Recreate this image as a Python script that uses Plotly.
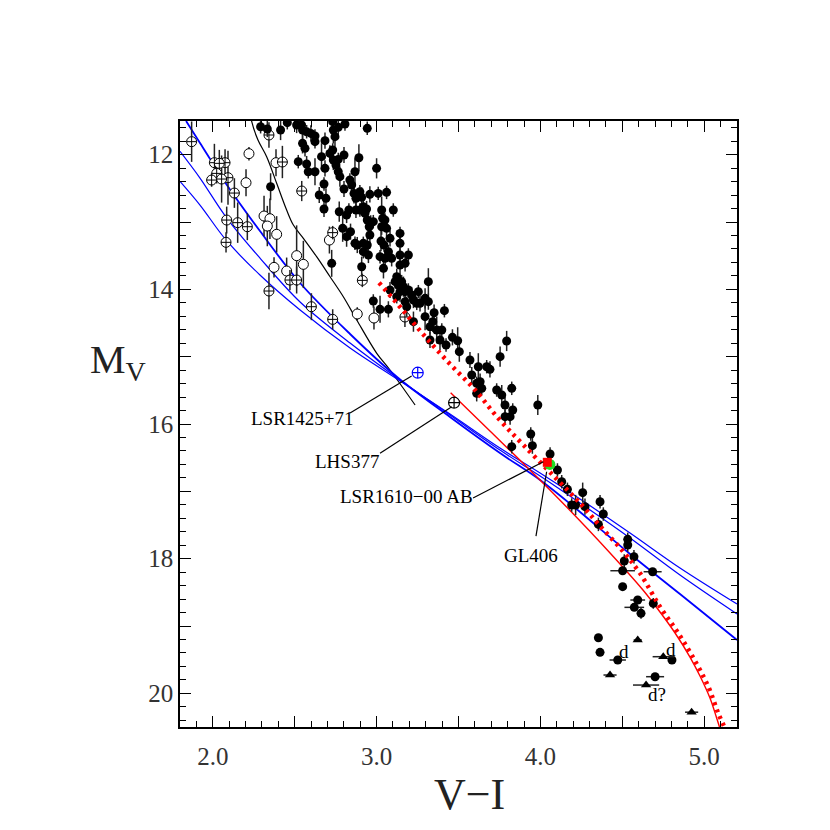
import plotly.graph_objects as go

# ---------------- data (V-I, M_V) ----------------
FILLED_VI = [
    2.292, 2.333, 2.414, 2.455, 2.512, 2.542, 2.548, 2.573, 2.599, 2.624, 2.732, 2.736, 2.766, 2.807, 2.943,
    2.548, 2.563, 2.624, 2.685, 2.746, 2.715, 2.732, 2.664, 2.766, 2.801, 2.892, 2.522, 2.573, 2.583, 2.624,
    2.685, 2.736, 2.752, 2.766, 2.776, 2.868, 3.000, 2.353, 2.679, 2.650, 2.691, 2.801, 2.837, 2.848, 2.862,
    2.874, 2.898, 2.909, 2.959, 3.010, 3.061, 2.679, 2.772, 2.817, 2.831, 2.874, 2.898, 2.919, 2.939, 2.929,
    2.943, 2.964, 2.980, 3.031, 3.102, 3.037, 3.051, 3.061, 2.793, 2.841, 2.817, 2.955, 2.959, 3.031, 2.868,
    2.882, 2.919, 2.943, 3.027, 3.045, 3.082, 3.143, 3.143,
    2.726, 2.919, 2.950, 3.021, 3.052, 3.042, 3.072, 3.092, 3.143, 3.143, 3.174, 3.194, 2.909, 3.123, 3.113,
    3.133, 3.153, 3.164, 3.316, 3.082, 3.123, 3.143, 3.174, 3.194, 3.214, 3.255, 3.296, 3.316, 2.980, 3.021,
    3.072, 3.174, 3.184, 3.225, 3.245, 3.265, 3.225, 3.296, 3.351, 3.414, 3.343, 3.326, 3.367, 3.398, 3.326,
    3.387, 3.424, 3.463, 3.495, 3.505, 3.570, 3.621, 3.672, 3.692, 3.754, 3.794, 3.581, 3.611, 3.632, 3.642,
    3.611, 3.733, 3.764, 3.825, 3.784, 3.831, 3.815, 3.784, 3.984, 3.941, 3.951, 3.825, 4.059, 4.104, 4.130,
    4.165,
    4.191, 4.215, 4.258, 4.272, 4.364, 4.384, 4.354, 4.533, 4.533, 4.571, 4.512, 4.354, 4.364, 4.803, 4.614,
    4.689, 4.502,
]
FILLED_MV = [
    11.585, 11.619, 11.634, 11.525, 11.560, 11.560, 11.634, 11.659, 11.684, 11.723, 11.510, 11.634, 11.594, 11.545, 11.609,
    11.832, 11.906, 11.807, 11.792, 11.733, 11.981, 11.931, 12.030, 12.070, 12.005, 12.045, 12.104, 12.139, 12.253, 12.253,
    12.203, 12.080, 12.154, 12.253, 12.327, 12.253, 12.203, 12.476, 12.436, 12.599, 12.649, 12.510, 12.377, 12.451, 12.575,
    12.649, 12.550, 12.634, 12.589, 12.575, 12.560, 12.807, 12.847, 12.896, 12.822, 12.822, 12.822, 12.773, 12.807, 12.872,
    12.971, 13.020, 12.995, 12.822, 12.822, 12.946, 12.971, 13.094, 13.094, 13.144, 13.218, 13.070, 13.193, 13.070, 13.317,
    13.342, 13.317, 13.342, 13.283, 13.342, 13.243, 13.169, 13.317,
    13.614, 13.441, 13.490, 13.515, 13.540, 13.688, 13.441, 13.540, 13.490, 13.639, 13.614, 13.490, 13.664, 13.812, 13.886,
    13.936, 13.886, 13.961, 13.886, 14.010, 14.109, 14.035, 14.035, 14.010, 14.084, 14.035, 14.134, 14.183, 14.173, 14.297,
    14.297, 14.183, 14.258, 14.159, 14.208, 14.208, 14.480, 14.406, 14.347, 14.317, 14.480, 14.555, 14.604, 14.604, 14.753,
    14.753, 14.827, 14.713, 14.763, 14.926, 15.050, 15.149, 15.149, 15.188, 15.000, 14.767, 15.272, 15.396, 15.371, 15.470,
    15.545, 15.495, 15.569, 15.470, 15.718, 15.792, 15.891, 15.891, 15.718, 16.149, 16.322, 16.337, 16.446, 16.683, 16.857,
    16.970,
    17.203, 17.203, 17.020, 17.228, 17.154, 17.337, 17.491, 17.713, 17.797, 17.971, 18.035, 19.174, 19.391, 19.505, 18.812,
    18.664, 18.416,
]
FILLED_ERR = [
    0.10, 0.12, 0.15, 0.10, 0.12, 0.10, 0.15, 0.10, 0.12, 0.10, 0.10, 0.20, 0.12, 0.10, 0.10,
    0.15, 0.12, 0.10, 0.12, 0.15, 0.12, 0.10, 0.20, 0.10, 0.12, 0.20, 0.10, 0.12, 0.10, 0.20,
    0.12, 0.15, 0.12, 0.10, 0.15, 0.20, 0.15, 0.20, 0.10, 0.12, 0.15, 0.12, 0.10, 0.10, 0.15,
    0.12, 0.10, 0.15, 0.12, 0.10, 0.10, 0.12, 0.15, 0.12, 0.10, 0.12, 0.10, 0.15, 0.12, 0.10,
    0.15, 0.12, 0.10, 0.20, 0.10, 0.12, 0.10, 0.15, 0.20, 0.12, 0.15, 0.10, 0.20, 0.12, 0.10,
    0.12, 0.10, 0.12, 0.15, 0.10, 0.12, 0.10, 0.15,
    0.20, 0.10, 0.12, 0.10, 0.12, 0.15, 0.10, 0.12, 0.10, 0.20, 0.12, 0.10, 0.15, 0.12, 0.10,
    0.12, 0.10, 0.15, 0.20, 0.12, 0.10, 0.15, 0.12, 0.10, 0.12, 0.10, 0.15, 0.12, 0.10, 0.20,
    0.12, 0.10, 0.15, 0.12, 0.10, 0.12, 0.15, 0.20, 0.12, 0.10, 0.15, 0.12, 0.20, 0.10, 0.12,
    0.15, 0.10, 0.12, 0.20, 0.15, 0.12, 0.20, 0.10, 0.12, 0.15, 0.15, 0.12, 0.10, 0.12, 0.10,
    0.12, 0.10, 0.15, 0.10, 0.12, 0.10, 0.12, 0.10, 0.15, 0.10, 0.12, 0.10, 0.10, 0.10, 0.10,
    0.10,
    0.10, 0.15, 0.15, 0.12, 0.10, 0.10, 0.10, 0.10, 0.10, 0.10, 0.10, 0.05, 0.05, 0.05, 0.08,
    0.08, 0.05,
]

# filled circles with horizontal error bars
HBAR_VI = [4.502, 4.685, 4.594, 4.573, 4.472, 4.700]
HBAR_MV = [18.179, 18.194, 18.614, 18.723, 19.505, 19.753]
HBAR_ERR = [0.075, 0.055, 0.045, 0.060, 0.050, 0.055]

# filled triangles with horizontal error bars
TRI_VI = [4.594, 4.425, 4.645, 4.750, 4.923]
TRI_MV = [19.208, 19.728, 19.877, 19.456, 20.280]
TRI_ERR = [0.025, 0.040, 0.080, 0.065, 0.040]

# open circles with cross
OPENX_VI = [1.871, 2.343, 2.010, 2.075, 2.425, 2.024, 1.993, 2.093, 2.543, 2.132, 2.085, 2.152, 2.211,
            2.081, 2.732, 2.471, 2.512, 2.343, 2.913, 2.602, 2.732, 3.173, 2.040, 2.054]
OPENX_MV = [11.807, 11.708, 12.119, 12.119, 12.109, 12.278, 12.377, 12.342, 12.540, 12.570, 12.971, 13.010, 13.070,
            13.302, 13.158, 13.862, 13.862, 14.025, 13.867, 14.258, 14.446, 14.411, 12.129, 12.362]
OPENX_ERR = [0.30, 0.19, 0.28, 0.20, 0.24, 0.15, 0.10, 0.40, 0.15, 0.22, 0.20, 0.30, 0.20,
             0.15, 0.10, 0.15, 0.20, 0.27, 0.10, 0.20, 0.15, 0.15, 0.20, 0.35]

# plain open circles
OPEN_VI = [2.221, 2.386, 2.203, 2.313, 2.349, 2.333, 2.390, 2.712, 2.512, 2.553, 2.374, 2.451, 2.882, 2.984]
OPEN_MV = [11.985, 12.119, 12.416, 12.911, 12.951, 13.060, 13.183, 13.268, 13.500, 13.629, 13.674, 13.728, 14.366, 14.426]
OPEN_ERR = [0.10, 0.20, 0.20, 0.30, 0.30, 0.30, 0.27, 0.20, 0.45, 0.35, 0.15, 0.20, 0.10, 0.17]

# named objects
LSR1425_VI, LSR1425_MV = 3.251, 15.238
LHS377_VI, LHS377_MV = 3.473, 15.684
LSR1610_VI, LSR1610_MV = 4.042, 16.569
GL406_VI, GL406_MV = 4.058, 16.600

# model sequences
BLACK_VI = [2.225, 2.238, 2.276, 2.329, 2.390, 2.451, 2.492, 2.553, 2.634, 2.716, 2.797, 2.879, 3.001, 3.082, 3.235]
BLACK_MV = [11.30, 11.510, 11.782, 12.030, 12.425, 12.822, 13.045, 13.242, 13.515, 13.813, 14.110, 14.456, 14.950, 15.198, 15.718]

BLUE_VI = [1.837, 1.922, 2.081, 2.288, 2.533, 2.838, 3.125, 3.448, 3.753, 3.998, 4.242, 4.547, 4.852, 5.200]
BLUE1_MV = [11.500, 11.827, 12.431, 13.134, 13.906, 14.663, 15.302, 15.896, 16.431, 16.832, 17.307, 17.931, 18.525, 19.208]
BLUE2_VI = [1.800, 1.922, 2.081, 2.288, 2.533, 2.838, 3.125, 3.448, 3.753, 3.998, 4.242, 4.547, 4.852, 5.200]
BLUE2_MV = [11.950, 12.347, 12.926, 13.535, 14.188, 14.797, 15.317, 15.867, 16.387, 16.773, 17.174, 17.693, 18.243, 18.822]
BLUE3_MV = [12.396, 12.748, 13.267, 13.787, 14.307, 14.871, 15.332, 15.852, 16.357, 16.728, 17.114, 17.619, 18.139, 18.674]

RED_VI = [3.452, 3.692, 3.936, 4.181, 4.425, 4.626, 4.730, 4.822, 4.913, 4.974, 5.035, 5.072, 5.093]
RED_MV = [15.535, 16.104, 16.683, 17.285, 17.916, 18.466, 18.792, 19.104, 19.461, 19.743, 20.070, 20.337, 20.500]

REDDOT_VI = [3.015, 3.159, 3.300, 3.448, 3.601, 3.743, 3.896, 4.095, 4.252, 4.364, 4.506, 4.608, 4.730,
             4.842, 4.944, 5.025, 5.086, 5.127]
REDDOT_MV = [13.902, 14.307, 14.713, 15.109, 15.495, 15.916, 16.312, 16.807, 17.203, 17.515, 17.897, 18.218,
             18.714, 19.109, 19.520, 19.902, 20.297, 20.520]

# labels: text, text position, leader start, leader end
LABELS = [
    ("LSR1425+71", 2.545, 15.911, (2.838, 15.837), (3.214, 15.287)),
    ("LHS377", 2.822, 16.550, (3.021, 16.435), (3.459, 15.743)),
    ("LSR1610\u221200 AB", 3.180, 17.084, (3.589, 17.099), (4.018, 16.560)),
    ("GL406", 3.943, 17.946, (3.973, 17.664), (4.038, 16.709)),
]
NOTES = [("d", 4.510, 19.382), ("d", 4.797, 19.346), ("d?", 4.714, 20.015)]

X_LABELED = [2.0, 3.0, 4.0, 5.0]
X_LABELS = ["2.0", "3.0", "4.0", "5.0"]
X_HALF = [2.5, 3.5, 4.5]
Y_LABELED = [12, 14, 16, 18, 20]
Y_LABELS = ["12", "14", "16", "18", "20"]
Y_ODD = [13, 15, 17, 19]

SERIF = "Liberation Serif"
X_RANGE = [1.8, 5.2]
Y_RANGE = [20.5, 11.5]

fig = go.Figure()

# black model line
fig.add_trace(go.Scatter(x=BLACK_VI, y=BLACK_MV, mode="lines",
                         line=dict(color="black", width=1.2, shape="spline")))
# blue model lines
fig.add_trace(go.Scatter(x=BLUE_VI, y=BLUE1_MV, mode="lines",
                         line=dict(color="#0000ff", width=1.8, shape="spline")))
fig.add_trace(go.Scatter(x=BLUE2_VI, y=BLUE2_MV, mode="lines",
                         line=dict(color="#0000ff", width=1.2, shape="spline")))
fig.add_trace(go.Scatter(x=BLUE2_VI, y=BLUE3_MV, mode="lines",
                         line=dict(color="#0000ff", width=1.2, shape="spline")))
# red solid line
fig.add_trace(go.Scatter(x=RED_VI, y=RED_MV, mode="lines",
                         line=dict(color="#ff0000", width=1.4, shape="spline", smoothing=0.8)))

# open circles
fig.add_trace(go.Scatter(
    x=OPEN_VI, y=OPEN_MV, mode="markers",
    marker=dict(symbol="circle", size=10, color="white", line=dict(color="black", width=1)),
    error_y=dict(type="data", array=OPEN_ERR, color="#222", thickness=1.5, width=0)))
fig.add_trace(go.Scatter(
    x=OPENX_VI, y=OPENX_MV, mode="markers",
    marker=dict(symbol="circle-cross", size=10, color="white", line=dict(color="black", width=1)),
    error_y=dict(type="data", array=OPENX_ERR, color="#222", thickness=1.5, width=0)))

# filled circles
fig.add_trace(go.Scatter(
    x=FILLED_VI, y=FILLED_MV, mode="markers",
    marker=dict(symbol="circle", size=9, color="black"),
    error_y=dict(type="data", array=FILLED_ERR, color="#222", thickness=1.5, width=0)))
fig.add_trace(go.Scatter(
    x=HBAR_VI, y=HBAR_MV, mode="markers",
    marker=dict(symbol="circle", size=9, color="black"),
    error_x=dict(type="data", array=HBAR_ERR, color="#222", thickness=1.5, width=0)))
fig.add_trace(go.Scatter(
    x=TRI_VI, y=TRI_MV, mode="markers",
    marker=dict(symbol="triangle-up", size=9, color="black"),
    error_x=dict(type="data", array=TRI_ERR, color="#222", thickness=1.5, width=0)))

# red dotted line
fig.add_trace(go.Scatter(x=REDDOT_VI, y=REDDOT_MV, mode="lines",
                         line=dict(color="#ff0000", width=4.5, dash="3px,4.5px", shape="spline")))

# named objects
fig.add_trace(go.Scatter(
    x=[LSR1425_VI], y=[LSR1425_MV], mode="markers",
    marker=dict(symbol="circle-cross", size=11, color="white", line=dict(color="#0000ff", width=1.2)),
    error_y=dict(type="data", array=[0.08], color="#0000ff", thickness=1.2, width=0)))
fig.add_trace(go.Scatter(
    x=[LHS377_VI], y=[LHS377_MV], mode="markers",
    marker=dict(symbol="circle-cross", size=11, color="white", line=dict(color="black", width=1.2))))
fig.add_trace(go.Scatter(
    x=[GL406_VI], y=[GL406_MV], mode="markers",
    marker=dict(symbol="circle", size=11, color="#22dd22")))
fig.add_trace(go.Scatter(
    x=[LSR1610_VI], y=[LSR1610_MV], mode="markers",
    marker=dict(symbol="square", size=9, color="#ff0000")))

# empty trace on the overlay axes (carries the unlabeled major ticks)
fig.add_trace(go.Scatter(x=[], y=[], xaxis="x2", yaxis="y2", hoverinfo="skip"))

shapes = []
annotations = []
for text, tx, ty, (x0, y0), (x1, y1) in LABELS:
    shapes.append(dict(type="line", xref="x", yref="y", x0=x0, y0=y0, x1=x1, y1=y1,
                       line=dict(color="black", width=1.2)))
    annotations.append(dict(x=tx, y=ty, xref="x", yref="y", text=text, showarrow=False,
                            font=dict(family=SERIF, size=19, color="black")))
for text, tx, ty in NOTES:
    annotations.append(dict(x=tx, y=ty, xref="x", yref="y", text=text, showarrow=False,
                            font=dict(family=SERIF, size=19, color="black")))

# axis titles
annotations.append(dict(x=0.52, y=-0.112, xref="paper", yref="paper", text="V\u2212I",
                        showarrow=False, font=dict(family=SERIF, size=44, color="#222"),
                        xanchor="center", yanchor="middle"))
annotations.append(dict(x=-0.058, y=0.603, xref="paper", yref="paper", text="M<sub>V</sub>",
                        showarrow=False, font=dict(family=SERIF, size=40, color="#222"),
                        xanchor="right", yanchor="middle"))

axis_common = dict(showgrid=False, zeroline=False, showline=True, linecolor="black", linewidth=1.5,
                   mirror="allticks", ticks="inside", ticklen=11, tickwidth=1.3, tickcolor="black",
                   tickfont=dict(family=SERIF, size=25, color="#333"))
overlay_common = dict(showgrid=False, zeroline=False, showline=False, showticklabels=False,
                      mirror="allticks", ticks="inside", ticklen=11, tickwidth=1.3, tickcolor="black")

fig.update_layout(
    width=830, height=830,
    margin=dict(l=172, r=101, t=113, b=111),
    paper_bgcolor="white", plot_bgcolor="white",
    showlegend=False,
    shapes=shapes, annotations=annotations,
    xaxis=dict(range=X_RANGE, tickmode="array", tickvals=X_LABELED, ticktext=X_LABELS,
               ticklabelstandoff=6,
               minor=dict(tick0=0, dtick=0.1, ticks="inside", ticklen=6, tickwidth=1, tickcolor="black"),
               **axis_common),
    yaxis=dict(range=Y_RANGE, tickmode="array", tickvals=Y_LABELED, ticktext=Y_LABELS,
               minor=dict(tick0=0, dtick=0.2, ticks="inside", ticklen=6, tickwidth=1, tickcolor="black"),
               **axis_common),
    xaxis2=dict(range=X_RANGE, overlaying="x", anchor="y", side="bottom",
                tickmode="array", tickvals=X_HALF, **overlay_common),
    yaxis2=dict(range=Y_RANGE, overlaying="y", anchor="x", side="left",
                tickmode="array", tickvals=Y_ODD, **overlay_common),
)

fig.write_html("out.html")
